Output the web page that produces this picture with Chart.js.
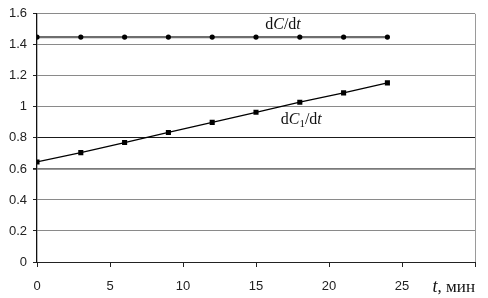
<!DOCTYPE html>
<html><head><meta charset="utf-8">
<script src="https://cdn.jsdelivr.net/npm/chart.js@4/dist/chart.umd.min.js"></script>
<style>html,body{margin:0;padding:0;background:#fff}#wrap{width:488px;height:298px}</style>
</head><body><div id="wrap"><canvas id="c" width="488" height="298"></canvas></div>
<script>
const times = [0, 3, 6, 9, 12, 15, 18, 21, 24];
const dCdt = [1.45, 1.45, 1.45, 1.45, 1.45, 1.45, 1.45, 1.45, 1.45];
const dC1dt = [0.645, 0.705, 0.77, 0.835, 0.9, 0.965, 1.03, 1.09, 1.155];
const yTicks = [0, 0.2, 0.4, 0.6, 0.8, 1, 1.2, 1.4, 1.6];
const yTickLabels = ['0', '0.2', '0.4', '0.6', '0.8', '1', '1.2', '1.4', '1.6'];
const xTicks = [0, 5, 10, 15, 20, 25, 30];
const xTickLabels = ['0', '5', '10', '15', '20', '25', ''];

const pts = (ys) => times.map((t, i) => ({x: t, y: ys[i]}));

function drawParts(ctx, parts, x, y, align) {
  let w = 0;
  parts.forEach(p => { ctx.font = p.f; w += ctx.measureText(p.t).width; });
  let cx = align === 'center' ? x - w / 2 : (align === 'right' ? x - w : x);
  parts.forEach(p => {
    ctx.font = p.f;
    ctx.fillText(p.t, cx, y + (p.dy || 0));
    cx += ctx.measureText(p.t).width;
  });
}

const labelPlugin = {
  id: 'labels',
  afterDraw(chart) {
    const ctx = chart.ctx, xs = chart.scales.x, ys = chart.scales.y;
    ctx.save();
    ctx.fillStyle = '#111';
    ctx.textBaseline = 'alphabetic';
    const R = '16px "Liberation Serif", "Times New Roman", serif';
    const I = 'italic 16px "Liberation Serif", "Times New Roman", serif';
    const S = '11px "Liberation Serif", "Times New Roman", serif';
    drawParts(ctx, [{t:'d',f:R},{t:'C',f:I},{t:'/d',f:R},{t:'t',f:I}], xs.getPixelForValue(16.85), ys.getPixelForValue(1.505), 'center');
    drawParts(ctx, [{t:'d',f:R},{t:'C',f:I},{t:'1',f:S,dy:3},{t:'/d',f:R},{t:'t',f:I}], xs.getPixelForValue(18.1), ys.getPixelForValue(0.89), 'center');
    const T = 'italic 18px "Liberation Serif", "Times New Roman", serif';
    drawParts(ctx, [{t:'t',f:T},{t:', мин',f:'17px "Liberation Serif", "Times New Roman", serif'}], 475, 292, 'right');
    ctx.restore();
  }
};

new Chart(document.getElementById('c'), {
  type: 'scatter',
  data: {
    datasets: [
      {
        label: 'dC/dt', data: pts(dCdt), showLine: true,
        borderColor: '#6e6e6e', borderWidth: 2.2,
        pointStyle: 'circle', pointRadius: 2.6, pointBackgroundColor: '#000', pointBorderColor: '#000', pointBorderWidth: 0
      },
      {
        label: 'dC1/dt', data: pts(dC1dt), showLine: true,
        borderColor: '#000', borderWidth: 1.3,
        pointStyle: 'rect', pointRadius: 3.6, pointBackgroundColor: '#000', pointBorderColor: '#000', pointBorderWidth: 0
      }
    ]
  },
  options: {
    responsive: false, animation: false, devicePixelRatio: 1,
    layout: { padding: { top: 12, right: 13, left: 0, bottom: 0 } },
    plugins: { legend: { display: false }, tooltip: { enabled: false } },
    scales: {
      x: {
        type: 'linear', min: 0, max: 30,
        afterBuildTicks: (s) => { s.ticks = xTicks.map(v => ({value: v})); },
        afterFit: (s) => { s.height = 36; },
        ticks: {
          callback: (v) => xTickLabels[xTicks.indexOf(v)] ?? '',
          color: '#222', font: { family: '"Liberation Sans", Arial, sans-serif', size: 13 },
          padding: 12, maxRotation: 0, autoSkip: false
        },
        grid: {
          drawOnChartArea: true, drawTicks: true, tickLength: 5,
          color: (c) => (c.tick && c.tick.value === 30) ? '#9a9a9a' : 'rgba(0,0,0,0)',
          tickColor: '#222', lineWidth: 1
        },
        border: { display: true, color: '#222', width: 1 }
      },
      y: {
        type: 'linear', min: 0, max: 1.6,
        afterBuildTicks: (s) => { s.ticks = yTicks.map(v => ({value: v})); },
        afterFit: (s) => { s.width = 37; },
        ticks: {
          callback: (v) => { const i = yTicks.findIndex(t => Math.abs(t - v) < 1e-6); return i >= 0 ? yTickLabels[i] : ''; },
          color: '#222', font: { family: '"Liberation Sans", Arial, sans-serif', size: 13 },
          padding: 6
        },
        grid: {
          drawTicks: true, tickLength: 4,
          color: (c) => {
            const v = c.tick ? c.tick.value : null;
            if (v === null) return '#8a8a8a';
            if (Math.abs(v - 0.8) < 1e-6) return '#1a1a1a';
            if (Math.abs(v - 0.6) < 1e-6) return '#7a7a7a';
            return '#8a8a8a';
          },
          lineWidth: (c) => (c.tick && Math.abs(c.tick.value - 0.6) < 1e-6) ? 1.8 : 1,
          tickColor: '#222'
        },
        border: { display: true, color: '#111', width: 1.3 }
      }
    }
  },
  plugins: [labelPlugin]
});
</script></body></html>
